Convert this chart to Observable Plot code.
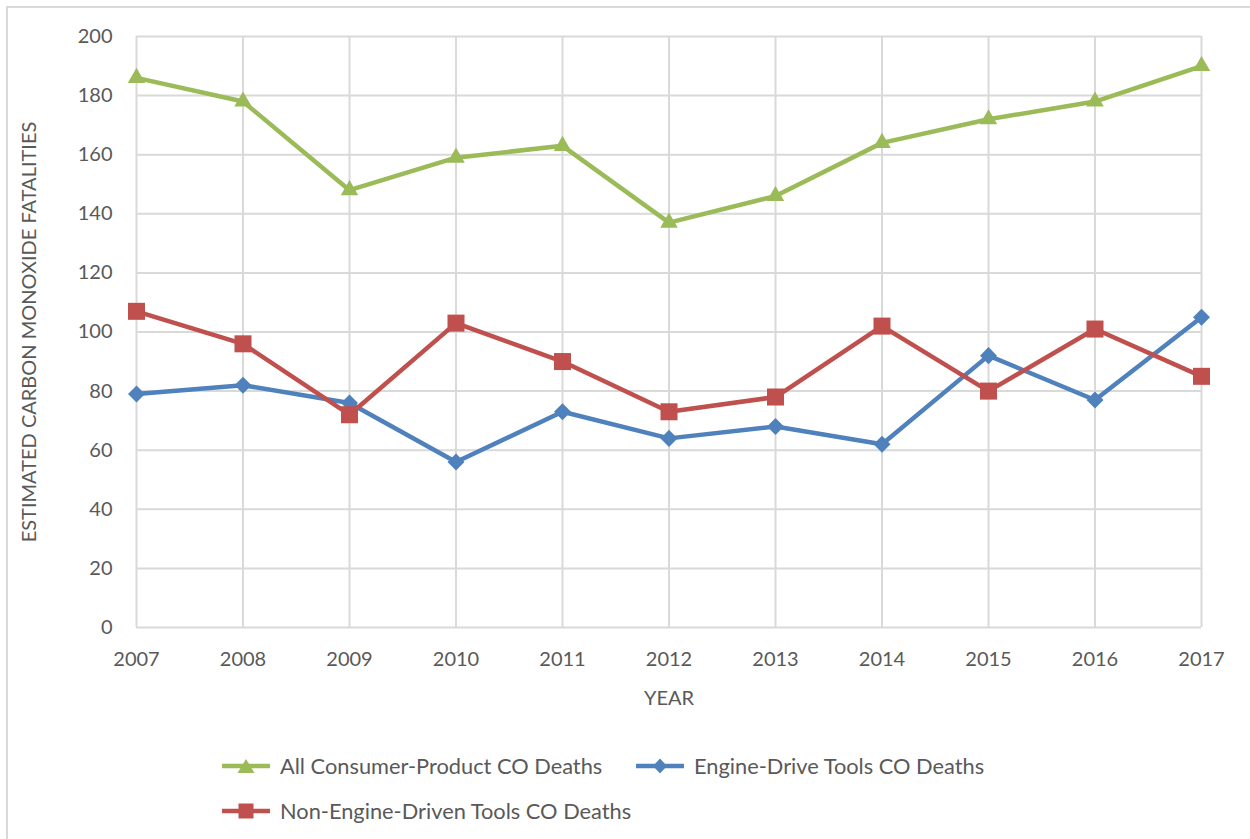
<!DOCTYPE html>
<html>
<head>
<meta charset="utf-8">
<script src="https://cdn.jsdelivr.net/npm/d3@7"></script>
<script src="https://cdn.jsdelivr.net/npm/@observablehq/plot@0.6"></script>
<style>
  html, body { margin: 0; padding: 0; background: #fff; }
  #wrap { position: relative; width: 1250px; height: 839px; overflow: hidden; font-family: Lato, "Open Sans", sans-serif; color: #595959; }
  #frame { position: absolute; left: 6px; top: 6px; width: 1300px; height: 900px; border: 2px solid #d9d9d9; box-sizing: border-box; }
  #chart { position: absolute; left: 0; top: 0; }
  .leg { position: absolute; display: flex; align-items: center; font-size: 21.8px; white-space: nowrap; }
  .leg svg { margin-right: 10px; }
</style>
</head>
<body>
<div id="wrap">
  <div id="frame"></div>
  <div id="chart"></div>
  <div id="legend"></div>
</div>
<script>
const years = [2007, 2008, 2009, 2010, 2011, 2012, 2013, 2014, 2015, 2016, 2017];
const allConsumer = [186, 178, 148, 159, 163, 137, 146, 164, 172, 178, 190];
const engineDriven = [79, 82, 76, 56, 73, 64, 68, 62, 92, 77, 105];
const nonEngine = [107, 96, 72, 103, 90, 73, 78, 102, 80, 101, 85];
const yTicks = [0, 20, 40, 60, 80, 100, 120, 140, 160, 180, 200];

const seriesNames = ["All Consumer-Product CO Deaths", "Engine-Drive Tools CO Deaths", "Non-Engine-Driven Tools CO Deaths"];
const seriesColors = ["#9bbb59", "#4f81bd", "#c0504d"];
const seriesValues = [allConsumer, engineDriven, nonEngine];

const rows = (i) => years.map((y, j) => ({year: y, value: seriesValues[i][j]}));
const green = rows(0), blue = rows(1), red = rows(2);

const plot = Plot.plot({
  width: 1250,
  height: 720,
  marginLeft: 136,
  marginRight: 49,
  marginTop: 36,
  marginBottom: 93,
  style: {fontFamily: "Lato, 'Open Sans', sans-serif", fontSize: "20px", color: "#595959", background: "transparent", overflow: "visible"},
  x: {domain: [2007, 2017]},
  y: {domain: [0, 200]},
  marks: [
    Plot.gridX(years, {stroke: "#d9d9d9", strokeOpacity: 1, strokeWidth: 2}),
    Plot.gridY(yTicks, {stroke: "#d9d9d9", strokeOpacity: 1, strokeWidth: 2}),
    Plot.axisX({ticks: years, tickFormat: "d", tickSize: 0, tickPadding: 24, label: "YEAR", labelAnchor: "center", labelArrow: "none", labelOffset: 77, fontSize: 20}),
    Plot.axisY({ticks: yTicks, tickSize: 0, tickPadding: 24, label: "ESTIMATED CARBON MONOXIDE FATALITIES", labelAnchor: "center", labelArrow: "none", labelOffset: 115, fontSize: 20}),
    Plot.line(green, {x: "year", y: "value", stroke: seriesColors[0], strokeWidth: 4.5}),
    Plot.dot(green, {x: "year", y: "value", symbol: "triangle", r: 6.5, fill: seriesColors[0], stroke: "none"}),
    Plot.line(blue, {x: "year", y: "value", stroke: seriesColors[1], strokeWidth: 4.5}),
    Plot.dot(blue, {x: "year", y: "value", symbol: "square", r: 6.8, rotate: 45, fill: seriesColors[1], stroke: "none"}),
    Plot.line(red, {x: "year", y: "value", stroke: seriesColors[2], strokeWidth: 4.5}),
    Plot.dot(red, {x: "year", y: "value", symbol: "square", r: 9.6, fill: seriesColors[2], stroke: "none"})
  ]
});
document.getElementById("chart").appendChild(plot);

// Legend
const legendPos = [[222, 765], [636, 765], [222, 810]];
const markerSvg = [
  '<polygon points="24,2 32.5,16 15.5,16" fill="#9bbb59"/>',
  '<polygon points="24,1.5 31,9 24,16.5 17,9" fill="#4f81bd"/>',
  '<rect x="16.5" y="1.5" width="15" height="15" fill="#c0504d"/>'
];
const legend = document.getElementById("legend");
seriesNames.forEach((name, i) => {
  const d = document.createElement("div");
  d.className = "leg";
  d.style.left = legendPos[i][0] + "px";
  d.style.top = (legendPos[i][1] - 13) + "px";
  d.innerHTML = `<svg width="48" height="18" viewBox="0 0 48 18"><line x1="0" y1="9" x2="48" y2="9" stroke="${seriesColors[i]}" stroke-width="4.5"/>${markerSvg[i]}</svg><span>${name}</span>`;
  legend.appendChild(d);
});
</script>
</body>
</html>
